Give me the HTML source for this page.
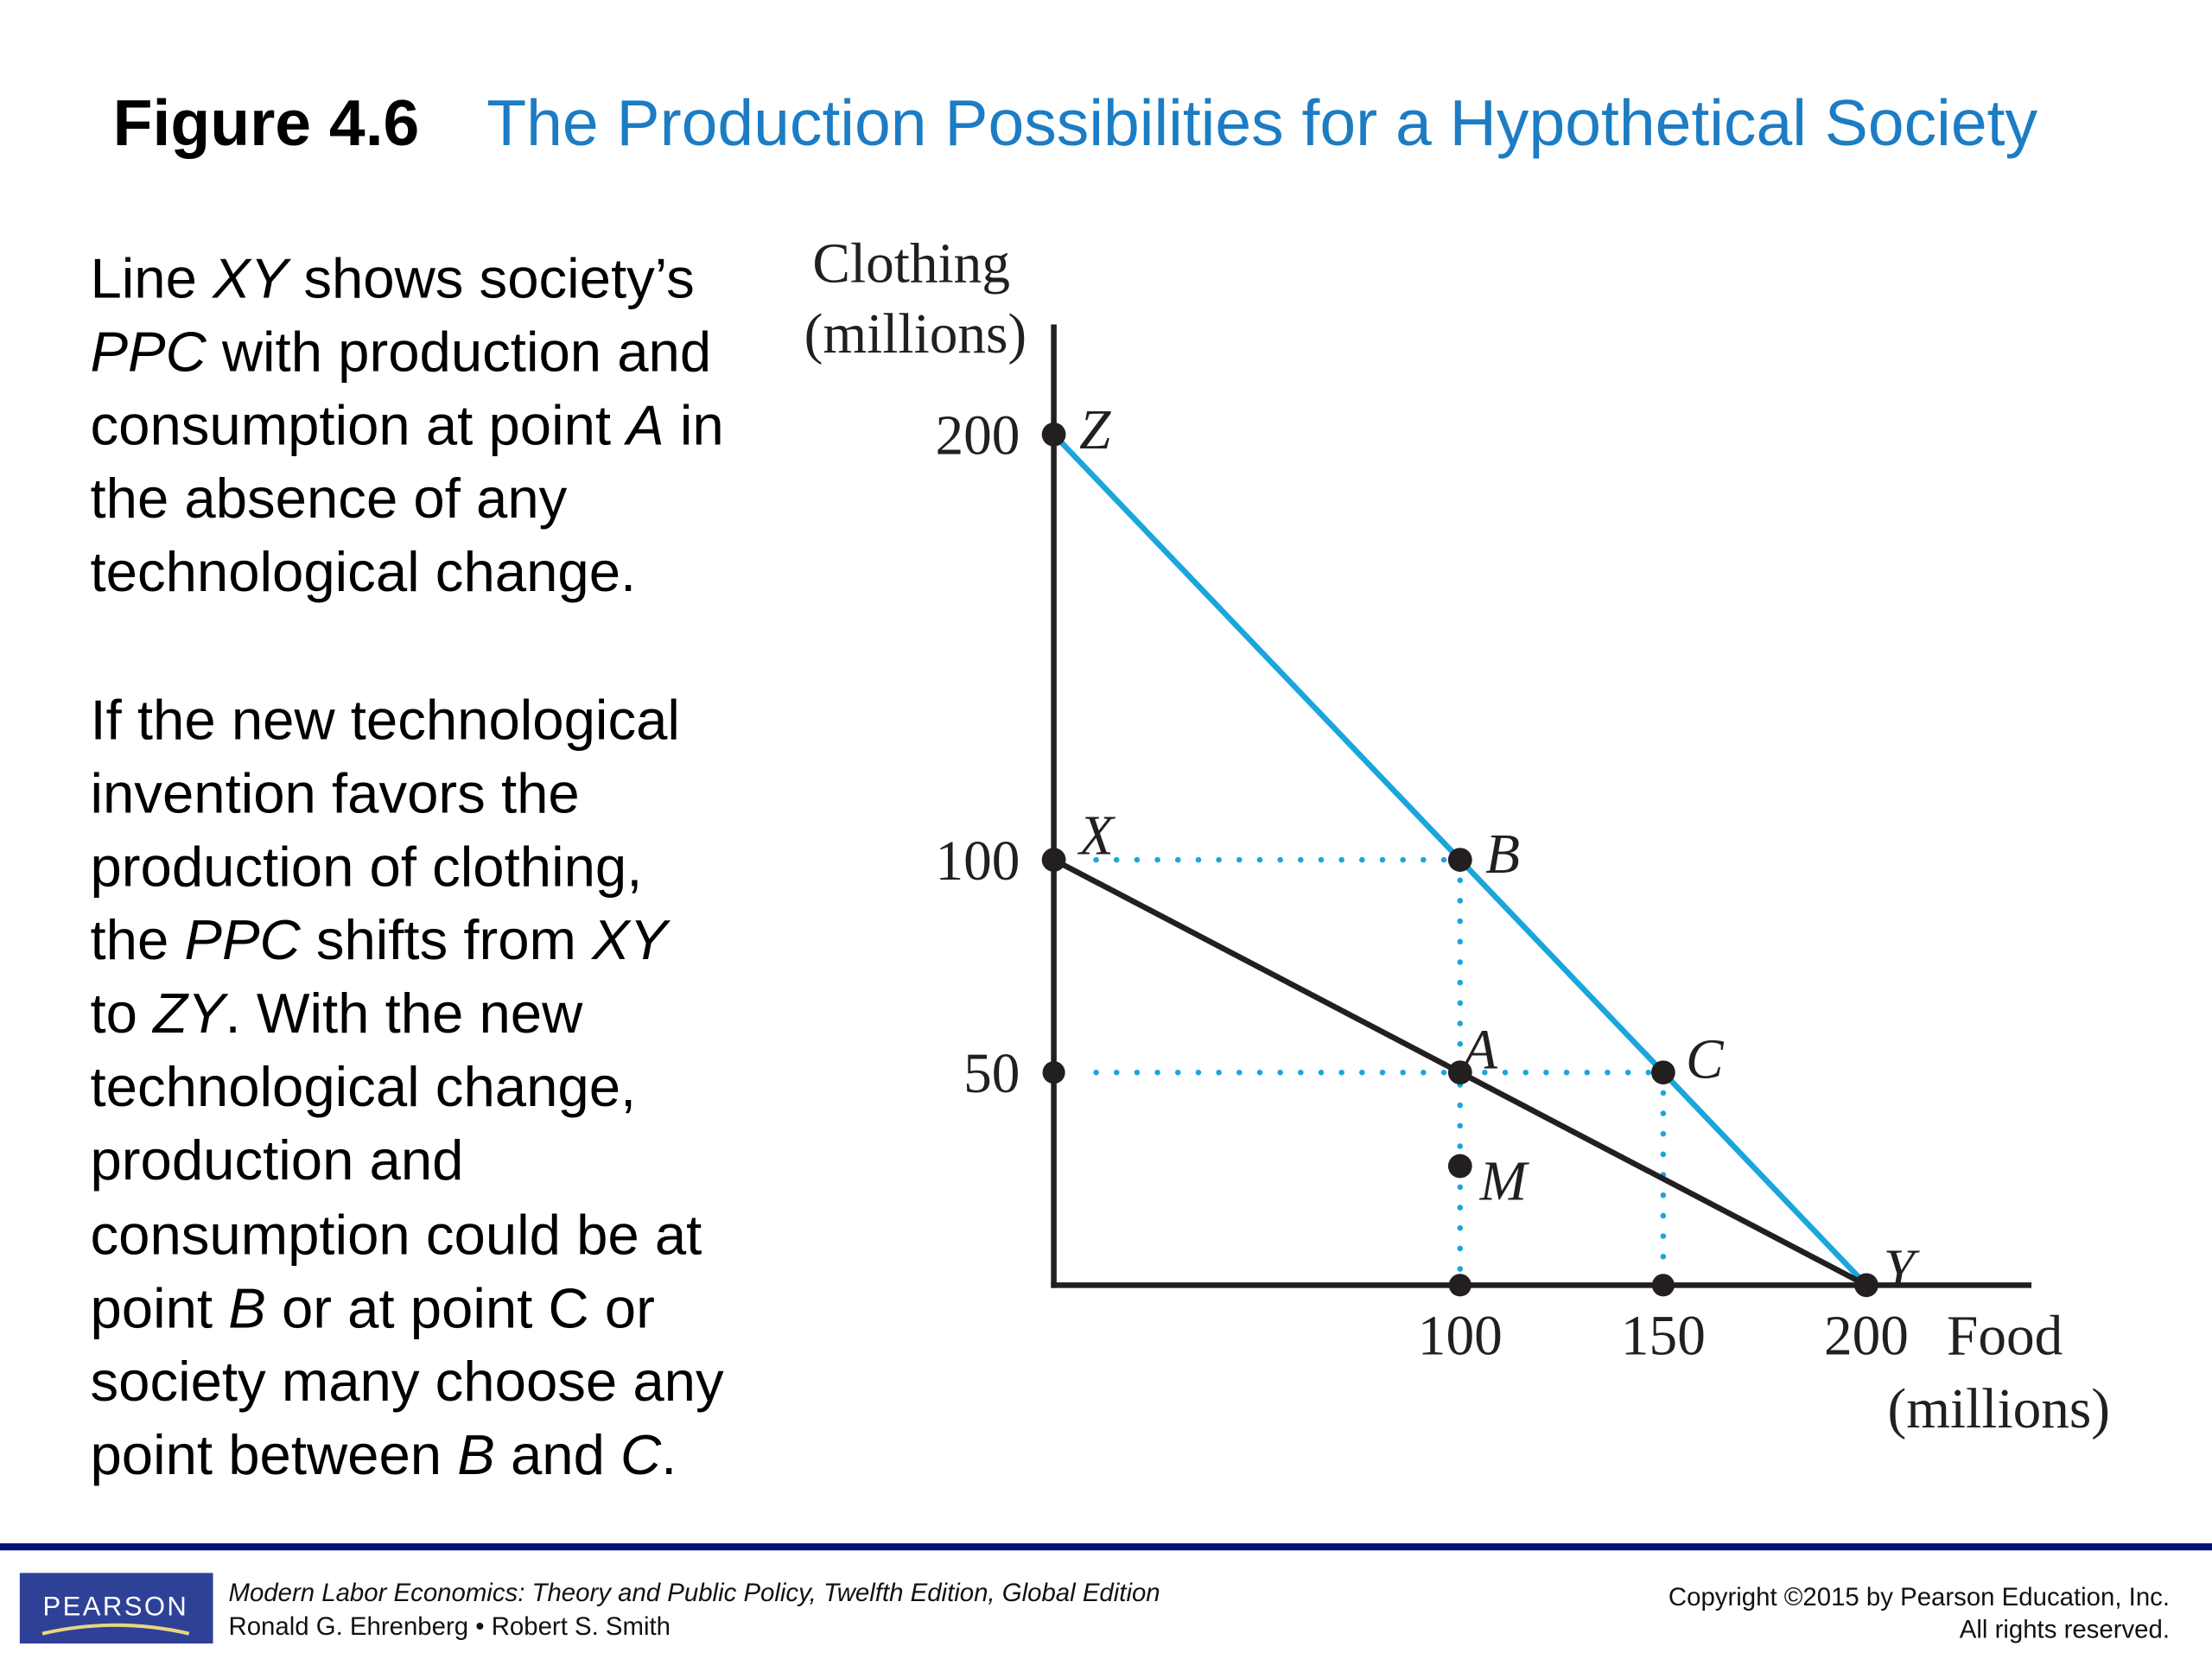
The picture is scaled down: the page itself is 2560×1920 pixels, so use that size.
<!DOCTYPE html>
<html><head><meta charset="utf-8"><style>
html,body{margin:0;padding:0;background:#fff;}
svg{display:block;}
.sans{font-family:"Liberation Sans",sans-serif;}
.serif{font-family:"Liberation Serif",serif;}
</style></head><body>
<svg width="2560" height="1920" viewBox="0 0 1568 1176" xmlns="http://www.w3.org/2000/svg">
<rect width="1568" height="1176" fill="#fff"/>
<text class="sans" x="80" y="103" font-size="46" font-weight="bold" fill="#000">Figure 4.6</text>
<text class="sans" x="345" y="103" font-size="46" fill="#1c7cc4">The Production Possibilities for a Hypothetical Society</text>

<g class="sans" font-size="40" fill="#000">
<text x="64" y="211">Line <tspan font-style="italic">XY</tspan> shows society’s</text>
<text x="64" y="263"><tspan font-style="italic">PPC</tspan> with production and</text>
<text x="64" y="315">consumption at point <tspan font-style="italic">A</tspan> in</text>
<text x="64" y="367">the absence of any</text>
<text x="64" y="419">technological change.</text>
<text x="64" y="524">If the new technological</text>
<text x="64" y="576">invention favors the</text>
<text x="64" y="628">production of clothing,</text>
<text x="64" y="680">the <tspan font-style="italic">PPC</tspan> shifts from <tspan font-style="italic">XY</tspan></text>
<text x="64" y="732">to <tspan font-style="italic">ZY</tspan>.  With the new</text>
<text x="64" y="784">technological change,</text>
<text x="64" y="836">production and</text>
<text x="64" y="889">consumption could be at</text>
<text x="64" y="941">point <tspan font-style="italic">B</tspan> or at point C or</text>
<text x="64" y="993">society many choose any</text>
<text x="64" y="1045">point between <tspan font-style="italic">B</tspan> and <tspan font-style="italic">C</tspan>.</text>
</g>

<g id="chart"></g>

<rect x="0" y="1094" width="1568" height="5" fill="#00107a"/>
<rect x="14" y="1115" width="137" height="50" fill="#2e4197"/>
<text class="sans" x="82" y="1145" font-size="19" fill="#fff" text-anchor="middle" letter-spacing="1.5">PEARSON</text>
<path d="M30 1158 Q82 1146 134 1158" stroke="#e8d680" stroke-width="2.5" fill="none"/>
<text class="sans" x="162" y="1135" font-size="18" font-style="italic" fill="#111">Modern Labor Economics: Theory and Public Policy, Twelfth Edition, Global Edition</text>
<text class="sans" x="162" y="1159" font-size="18" fill="#111">Ronald G. Ehrenberg • Robert S. Smith</text>
<text class="sans" x="1538" y="1138" font-size="18" fill="#111" text-anchor="end">Copyright ©2015 by Pearson Education, Inc.</text>
<text class="sans" x="1538" y="1161" font-size="18" fill="#111" text-anchor="end">All rights reserved.</text>
</svg>
<script>
const xTicks=[100,150,200];
const yTicks=[50,100,200];
const pointNames=['Z','X','B','A','C','M','Y'];
const pointFood=[0,0,100,100,150,100,200];
const pointCloth=[200,100,100,50,50,28,0];
const ppcOld=[[0,100],[200,0]];
const ppcNew=[[0,200],[200,0]];
const ns='http://www.w3.org/2000/svg';
const g=document.getElementById('chart');
const X0=747,XS=2.88,Y0=911,YS=3.015;
const sx=v=>X0+v*XS, sy=v=>Y0-v*YS;
function mk(tag,attrs,txt){const e=document.createElementNS(ns,tag);for(const k in attrs)e.setAttribute(k,attrs[k]);if(txt!==undefined)e.textContent=txt;g.appendChild(e);return e;}
function dotted(x1,y1,x2,y2,name){const e=mk('line',{x1:x1,y1:y1,x2:x2,y2:y2,stroke:'#1aa6dd','stroke-width':4,'stroke-dasharray':'0 14.5','stroke-linecap':'round'});

}
// guides
dotted(sx(0)+30,sy(100),sx(100),sy(100),'guide-x-b');
dotted(sx(0)+30,sy(50),sx(150),sy(50),'guide-50-c');
dotted(sx(100),sy(100),sx(100),sy(0),'guide-b-axis');
dotted(sx(150),sy(50),sx(150),sy(0),'guide-c-axis');
// axes
let a=mk('line',{x1:sx(0),y1:230,x2:sx(0),y2:Y0+2,stroke:'#231f20','stroke-width':4});


a=mk('line',{x1:745,y1:Y0,x2:1440,y2:Y0,stroke:'#231f20','stroke-width':4});


// ppc lines
let l=mk('line',{x1:sx(ppcNew[0][0]),y1:sy(ppcNew[0][1]),x2:sx(ppcNew[1][0]),y2:sy(ppcNew[1][1]),stroke:'#1aa6dd','stroke-width':4});


l=mk('line',{x1:sx(ppcOld[0][0]),y1:sy(ppcOld[0][1]),x2:sx(ppcOld[1][0]),y2:sy(ppcOld[1][1]),stroke:'#231f20','stroke-width':4});


// axis dots and ticks
const F='Liberation Serif, serif';
yTicks.forEach(v=>{const c=mk('circle',{cx:sx(0),cy:sy(v),r:8,fill:'#231f20'});


const t=mk('text',{x:sx(0)-24,y:sy(v)+14,'font-size':40,'font-family':F,'text-anchor':'end',fill:'#231f20'},String(v));

});
xTicks.forEach(v=>{const c=mk('circle',{cx:sx(v),cy:sy(0),r:8,fill:'#231f20'});


const t=mk('text',{x:sx(v),y:960,'font-size':40,'font-family':F,'text-anchor':'middle',fill:'#231f20'},String(v));

});
// points
const off={Z:[18,-4],X:[18,-18],B:[18,-5],A:[2,-17],C:[16,-10],M:[14,10],Y:[12,-12]};
pointNames.forEach((n,i)=>{const px=sx(pointFood[i]),py=sy(pointCloth[i]);
const c=mk('circle',{cx:px,cy:py,r:8.5,fill:'#231f20'});


const t=mk('text',{x:px+off[n][0],y:py+off[n][1]+14,'font-size':40,'font-family':F,'font-style':'italic',fill:'#231f20'},n);

});
// axis titles
[['Clothing',576,200,'start','y-axis-title'],['(millions)',570,250,'start','y-axis-unit'],['Food',1380,960,'start','x-axis-title'],['(millions)',1338,1012,'start','x-axis-unit']].forEach(d=>{
const t=mk('text',{x:d[1],y:d[2],'font-size':40,'font-family':F,'text-anchor':d[3],fill:'#231f20'},d[0]);

});
</script>
</body></html>
